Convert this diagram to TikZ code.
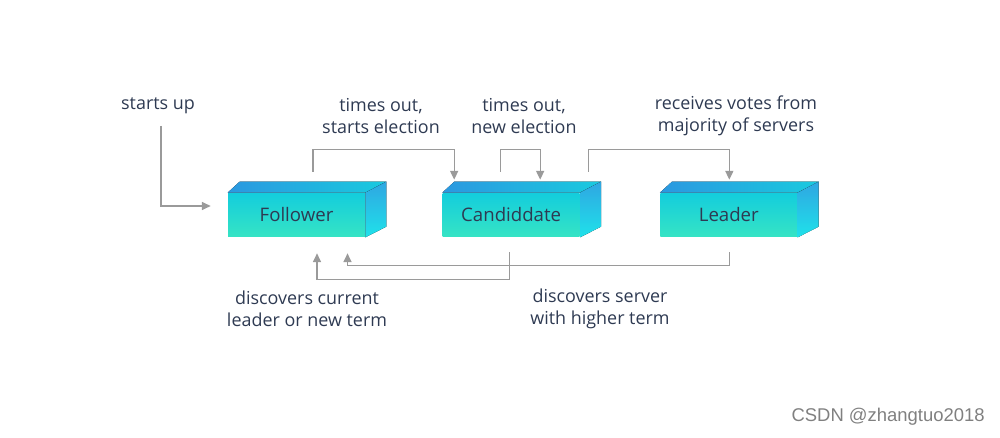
\documentclass[tikz,border=0pt]{standalone}
\usepackage{fontspec}
\setmainfont{Open Sans}
\setsansfont{Open Sans}
\setmonofont{Liberation Sans}
\usetikzlibrary{arrows.meta, positioning, calc}

\definecolor{txtcol}{HTML}{2E3A52}
\definecolor{linecol}{HTML}{9A9A9A}
\definecolor{frontTop}{HTML}{13CDDD}
\definecolor{frontBot}{HTML}{36E4C4}
\definecolor{roofA}{HTML}{2B98E0}
\definecolor{roofB}{HTML}{19CADF}
\definecolor{sideA}{HTML}{2FA6E2}
\definecolor{sideB}{HTML}{1FE2EA}

\begin{document}
\begin{tikzpicture}[
    x=0.02cm, y=-0.02cm,
    font=\sffamily,
    node distance=1.55cm,
    % Box Styles
    state/.style={
        rectangle, inner sep=0pt, minimum width=2.74cm, minimum height=0.88cm,
        top color=frontTop, bottom color=frontBot, text=txtcol,
        font=\sffamily\fontsize{10.6}{12}\selectfont
    },
    roof/.style={left color=roofA, right color=roofB},
    side/.style={top color=sideA, bottom color=sideB},
    % Label Style
    lbl/.style={text=txtcol, align=center, inner sep=0pt,
        font=\sffamily\fontsize{10.2}{12.6}\selectfont},
    % Arrow Style
    flow/.style={-{Triangle[length=5pt, width=4.6pt]}, line width=0.7pt, draw=linecol}
]
    \useasboundingbox (0,0) rectangle (1000,438);

    % --- STATES ---
    \node[state] (follower) at (296.5,215) {Follower};
    \node[state, right=1.54cm of follower] (candidate) {Candiddate};
    \node[state, right=1.6cm of candidate] (leader) {Leader};

    % 3D faces
    \foreach \s in {follower, candidate, leader} {
        \fill[roof] (\s.north west) -- ++(12,-11) -- ($(\s.north east)+(21,-11)$)
            -- (\s.north east) -- cycle;
        \fill[side] (\s.north east) -- ++(21,-11) -- ++(0,45)
            -- (\s.south east) -- cycle;
    }

    % --- LABELS ---
    \node[lbl] (upl) at (158,106) {starts up};
    \node[lbl] (timeoutl) at (381,116) {times out,\\starts election};
    \node[lbl] (newelecl) at (524,116) {times out,\\new election};
    \node[lbl] (votesl) at (736,116) {receives votes from\\majority of servers};
    \node[lbl] (currentl) at (307,309) {discovers current\\leader or new term};
    \node[lbl] (higherl) at (600,309) {discovers server\\with higher term};

    % --- ARROWS ---
    \coordinate (start) at (161,126);
    \draw[flow] (start) |- ($(follower.west)+(-17,-9)$);

    \draw[flow] ($(follower.north)+(16.5,-21)$) -- ++(0,-22)
        -| ($(candidate.north)+(-57,-13)$);
    \draw[flow] ($(candidate.north)+(-11,-21)$) -- ++(0,-22)
        -| ($(candidate.north)+(29,-13)$);
    \draw[flow] ($(candidate.north)+(77,-21)$) -- ++(0,-22)
        -| ($(leader.north)+(0.5,-13)$);

    \draw[flow] ($(candidate.south)+(-2,15)$) -- ++(0,27)
        -| ($(follower.south)+(20.5,16)$);
    \draw[flow] ($(leader.south)+(0.5,15)$) -- ++(0,13)
        -| ($(follower.south)+(51,16)$);

    % Watermark
    \node[anchor=east, text=black!50, inner sep=0pt,
        font=\ttfamily\fontsize{10.5}{12}\selectfont] (mark) at (985,417) {CSDN @zhangtuo2018};

\end{tikzpicture}
\end{document}
